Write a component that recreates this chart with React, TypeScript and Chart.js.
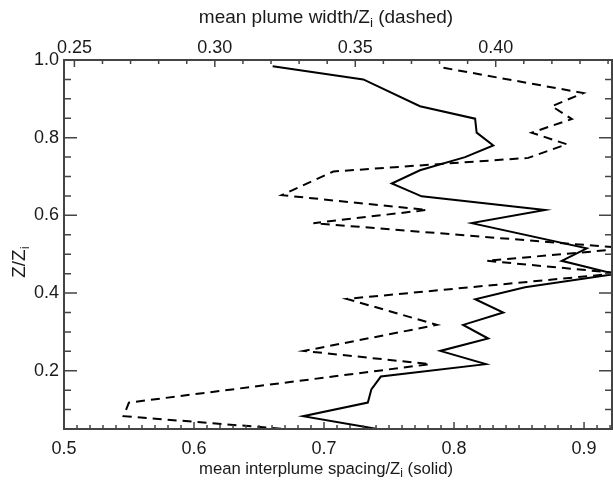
import React, { useEffect, useRef } from "react";
import { Chart, registerables } from "chart.js";

Chart.register(...registerables);

// Solid line: mean interplume spacing / Zi (bottom axis) vs Z/Zi
const solidHeight = [0.984, 0.95, 0.881, 0.849, 0.813, 0.78, 0.75, 0.716, 0.682, 0.649, 0.614, 0.58, 0.515, 0.483, 0.449, 0.415, 0.384, 0.35, 0.318, 0.283, 0.251, 0.217, 0.185, 0.152, 0.118, 0.083, 0.05];
const solidSpacing = [0.6605, 0.7302, 0.7738, 0.8162, 0.8174, 0.8302, 0.8085, 0.7738, 0.7521, 0.7751, 0.87, 0.8136, 0.9021, 0.8828, 0.924, 0.8546, 0.8163, 0.8379, 0.807, 0.8263, 0.7894, 0.8244, 0.7437, 0.7364, 0.7337, 0.6839, 0.741];

// Dashed line: mean plume width / Zi (top axis) vs Z/Zi
const dashedHeight = [0.98, 0.915, 0.881, 0.848, 0.813, 0.783, 0.748, 0.713, 0.652, 0.614, 0.58, 0.515, 0.483, 0.451, 0.385, 0.318, 0.251, 0.217, 0.118, 0.083, 0.05];
const dashedWidth = [0.3814, 0.4312, 0.42, 0.4271, 0.4128, 0.4253, 0.4116, 0.3422, 0.3238, 0.3755, 0.3351, 0.447, 0.3968, 0.444, 0.347, 0.3791, 0.3317, 0.3766, 0.2694, 0.2675, 0.325];

const bottomTicks = [0.5, 0.6, 0.7, 0.8, 0.9];
const topTicks = [0.25, 0.3, 0.35, 0.4];
const leftTicks = [0.2, 0.4, 0.6, 0.8, 1.0];

const bottomRange = [0.5, 0.9215];
const topRange = [0.2463, 0.4414];
const yRange = [0.05, 1.0];

const bottomTitle = ["mean interplume spacing/Z", "i", " (solid)"];
const topTitle = ["mean plume width/Z", "i", " (dashed)"];
const leftTitle = ["Z/Z", "i", ""];

const FONT = "'Liberation Sans', Arial, Helvetica, sans-serif";
const FRAME = "#444";
const TEXT = "#1a1a1a";

function drawSubText(ctx: CanvasRenderingContext2D, parts: string[], cx: number, cy: number, size: number) {
  const sub = size * 0.72;
  ctx.font = `${size}px ${FONT}`;
  const w0 = ctx.measureText(parts[0]).width;
  const w2 = ctx.measureText(parts[2]).width;
  ctx.font = `${sub}px ${FONT}`;
  const w1 = ctx.measureText(parts[1]).width;
  const total = w0 + w1 + w2;
  let x = cx - total / 2;
  ctx.textBaseline = "middle";
  ctx.textAlign = "left";
  ctx.fillStyle = TEXT;
  ctx.font = `${size}px ${FONT}`;
  ctx.fillText(parts[0], x, cy);
  x += w0;
  ctx.font = `${sub}px ${FONT}`;
  ctx.fillText(parts[1], x, cy + size * 0.3);
  x += w1;
  ctx.font = `${size}px ${FONT}`;
  ctx.fillText(parts[2], x, cy);
}

const framePlugin = {
  id: "framePlugin",
  afterDatasetsDraw(chart: any) {
    const ctx: CanvasRenderingContext2D = chart.ctx;
    const { left, right, top, bottom } = chart.chartArea;
    const xs = chart.scales.x;
    const x2 = chart.scales.x2;
    const ys = chart.scales.y;
    ctx.save();
    ctx.strokeStyle = FRAME;
    ctx.lineWidth = 2;
    ctx.strokeRect(left, top, right - left, bottom - top);
    ctx.lineWidth = 1.5;
    ctx.beginPath();
    for (let k = 1; k <= 20; k++) {
      const v = k * 0.05;
      if (v < yRange[0] + 1e-6) continue;
      const py = ys.getPixelForValue(v);
      const major = k % 4 === 0;
      const len = major ? 13 : 7;
      ctx.moveTo(left, py);
      ctx.lineTo(left + len, py);
      ctx.moveTo(right, py);
      ctx.lineTo(right - len, py);
    }
    for (let k = 50; k <= 92; k++) {
      const v = k / 100;
      if (v > bottomRange[1]) break;
      const px = xs.getPixelForValue(v);
      const len = k % 10 === 0 ? 7 : 4;
      ctx.moveTo(px, bottom);
      ctx.lineTo(px, bottom - len);
    }
    for (let k = 25; k <= 44; k++) {
      const v = k / 100;
      if (v > topRange[1]) break;
      const px = x2.getPixelForValue(v);
      const len = k % 5 === 0 ? 7 : 4;
      ctx.moveTo(px, top);
      ctx.lineTo(px, top + len);
    }
    ctx.stroke();
    ctx.restore();
  },
  afterDraw(chart: any) {
    const ctx: CanvasRenderingContext2D = chart.ctx;
    ctx.save();
    drawSubText(ctx, topTitle, 326, 18, 19);
    drawSubText(ctx, bottomTitle, 326, 469, 16.7);
    ctx.translate(20, 262);
    ctx.rotate(-Math.PI / 2);
    drawSubText(ctx, leftTitle, 0, 0, 19);
    ctx.restore();
  },
};

export default function App() {
  const ref = useRef<HTMLCanvasElement | null>(null);
  useEffect(() => {
    if (!ref.current) return;
    const tickFont = { family: FONT, size: 18 };
    const chart = new Chart(ref.current, {
      type: "scatter",
      data: {
        datasets: [
          {
            label: "spacing",
            data: solidSpacing.map((x, i) => ({ x, y: solidHeight[i] })),
            xAxisID: "x",
            yAxisID: "y",
            showLine: true,
            borderColor: "#000",
            borderWidth: 2,
            pointRadius: 0,
            fill: false,
            tension: 0,
          },
          {
            label: "width",
            data: dashedWidth.map((x, i) => ({ x, y: dashedHeight[i] })),
            xAxisID: "x2",
            yAxisID: "y",
            showLine: true,
            borderColor: "#000",
            borderWidth: 2,
            borderDash: [9, 6],
            pointRadius: 0,
            fill: false,
            tension: 0,
          },
        ],
      },
      options: {
        responsive: false,
        animation: false,
        events: [],
        layout: { padding: { left: 0, right: 1, top: 0, bottom: 0 } },
        plugins: { legend: { display: false }, tooltip: { enabled: false }, title: { display: false } },
        scales: {
          x: {
            type: "linear",
            position: "bottom",
            min: bottomRange[0],
            max: bottomRange[1],
            grid: { display: false, drawTicks: false },
            border: { display: false },
            afterBuildTicks: (s: any) => {
              s.ticks = bottomTicks.map((v) => ({ value: v }));
            },
            afterFit: (s: any) => {
              s.height = 52;
            },
            ticks: {
              autoSkip: false,
              maxRotation: 0,
              padding: 9,
              color: TEXT,
              font: tickFont,
              callback: (v: any) => Number(v).toFixed(1),
            },
          },
          x2: {
            type: "linear",
            position: "top",
            min: topRange[0],
            max: topRange[1],
            grid: { display: false, drawTicks: false },
            border: { display: false },
            afterBuildTicks: (s: any) => {
              s.ticks = topTicks.map((v) => ({ value: v }));
            },
            afterFit: (s: any) => {
              s.height = 60;
            },
            ticks: {
              autoSkip: false,
              maxRotation: 0,
              padding: 1,
              color: TEXT,
              font: tickFont,
              callback: (v: any) => Number(v).toFixed(2),
            },
          },
          y: {
            type: "linear",
            position: "left",
            min: yRange[0],
            max: yRange[1],
            grid: { display: false, drawTicks: false },
            border: { display: false },
            afterBuildTicks: (s: any) => {
              s.ticks = leftTicks.map((v) => ({ value: v }));
            },
            afterFit: (s: any) => {
              s.width = 64;
            },
            ticks: {
              autoSkip: false,
              padding: 5,
              color: TEXT,
              font: tickFont,
              callback: (v: any) => Number(v).toFixed(1),
            },
          },
        },
      },
      plugins: [framePlugin],
    } as any);
    return () => chart.destroy();
  }, []);
  return (
    <div style={{ position: "fixed", left: 0, top: 0, width: 613, height: 481, background: "#fff" }}>
      <canvas ref={ref} width={613} height={481} style={{ display: "block" }} />
    </div>
  );
}
